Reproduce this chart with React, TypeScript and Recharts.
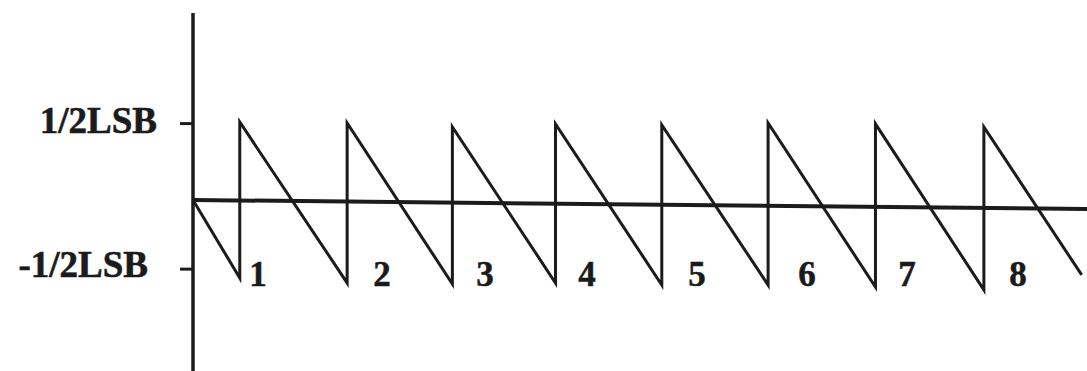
import { ComposedChart, Line, Scatter, XAxis, YAxis } from 'recharts';

// Quantization error vs. input code: sawtooth between -1/2 and +1/2 LSB
const codeSteps = [0.44, 1.45, 2.44, 3.41, 4.41, 5.41, 6.42, 7.44];
const troughErr = [-0.561, -0.595, -0.602, -0.595, -0.609, -0.609, -0.623, -0.643];
const peakErr = [0.511, 0.504, 0.477, 0.498, 0.491, 0.504, 0.498, 0.477];
const startPoint = { x: 0, e: -0.025 };
const endPoint = { x: 8.36, e: -0.54 };

// Baseline through the middle of the band
const zeroLine = [
  { x: 0, e: -0.025 },
  { x: 8.41, e: -0.087 },
];

// Step numbers written under each jump
const stepNames = ['1', '2', '3', '4', '5', '6', '7', '8'];
const stepLabelX = [0.611, 1.778, 2.747, 3.707, 4.741, 5.776, 6.716, 7.761];
const stepLabelY = -0.618;

const yTicks = [0.5, -0.5];
const yTickNames: Record<string, string> = { '0.5': '1/2LSB', '-0.5': '-1/2LSB' };

const INK = '#1b1b1b';
const FONT = '"Liberation Serif", "Times New Roman", serif';

const sawtooth = [
  startPoint,
  ...codeSteps.flatMap((x, i) => [
    { x, e: troughErr[i] },
    { x, e: peakErr[i] },
  ]),
  endPoint,
];

const stepLabels = stepNames.map((n, i) => ({ x: stepLabelX[i], e: stepLabelY, n }));

const YTick = ({ x, y, payload }: any) => {
  const neg = payload.value < 0;
  return (
    <text
      x={x + (neg ? -30 : -21)}
      y={y + (neg ? 8 : 9)}
      textAnchor="end"
      fontFamily={FONT}
      fontWeight="bold"
      fontSize={37}
      fill={INK}
      stroke={INK}
      strokeWidth={0.6}
    >
      {yTickNames[String(payload.value)]}
    </text>
  );
};

const StepLabel = (p: any) => (
  <text
    x={p.cx}
    y={p.cy}
    textAnchor="middle"
    fontFamily={FONT}
    fontWeight="bold"
    fontSize={35}
    fill={INK}
    stroke={INK}
    strokeWidth={0.5}
  >
    {p.payload.n}
  </text>
);

export default function App() {
  return (
    <div style={{ position: 'fixed', left: 0, top: 0, width: 1087, height: 371, background: '#fff' }}>
      <ComposedChart width={1087} height={371} margin={{ top: 13, right: 0, bottom: 0, left: 0 }}>
        <XAxis type="number" dataKey="x" domain={[0, 8.41]} hide allowDuplicatedCategory={false} />
        <YAxis
          type="number"
          width={193}
          domain={[-1.2, 1.26]}
          ticks={yTicks}
          interval={0}
          axisLine={{ stroke: INK, strokeWidth: 3.5 }}
          tickLine={{ stroke: INK, strokeWidth: 3 }}
          tickSize={13}
          tick={<YTick />}
        />
        <Line
          data={zeroLine}
          dataKey="e"
          type="linear"
          stroke={INK}
          strokeWidth={4}
          dot={false}
          isAnimationActive={false}
        />
        <Line
          data={sawtooth}
          dataKey="e"
          type="linear"
          stroke={INK}
          strokeWidth={3}
          strokeLinejoin="miter"
          dot={false}
          isAnimationActive={false}
        />
        <Scatter data={stepLabels} dataKey="e" shape={<StepLabel />} isAnimationActive={false} />
      </ComposedChart>
    </div>
  );
}
